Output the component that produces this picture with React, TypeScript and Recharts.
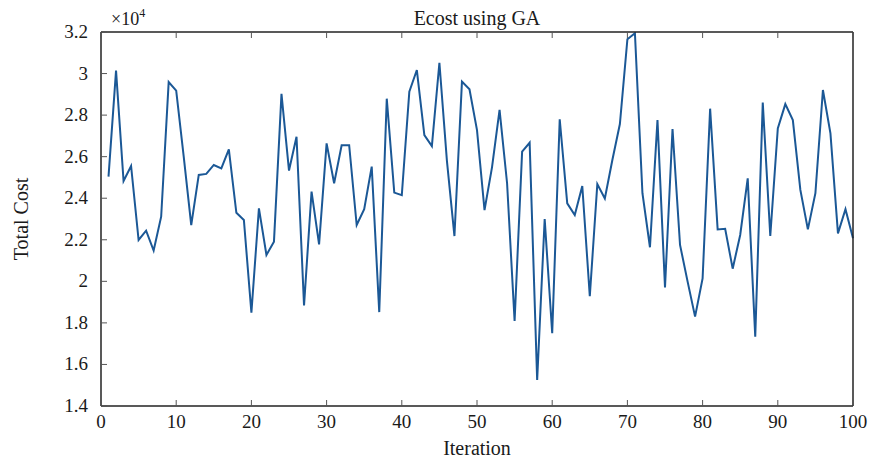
import React from 'react';
import { LineChart, Line, XAxis, YAxis } from 'recharts';

const iterations: number[] = Array.from({ length: 100 }, (_, i) => i + 1);

const totalCost: number[] = [
  2.504, 3.014, 2.483, 2.555, 2.199, 2.244, 2.148, 2.311, 2.959, 2.918,
  2.6, 2.271, 2.512, 2.517, 2.56, 2.544, 2.635, 2.33, 2.295, 1.849,
  2.351, 2.127, 2.191, 2.902, 2.533, 2.696, 1.884, 2.432, 2.178, 2.664,
  2.472, 2.655, 2.655, 2.271, 2.347, 2.552, 1.852, 2.879, 2.427, 2.415,
  2.913, 3.017, 2.704, 2.651, 3.052, 2.58, 2.218, 2.961, 2.924, 2.728,
  2.343, 2.55, 2.825, 2.472, 1.809, 2.624, 2.667, 1.525, 2.3, 1.75,
  2.78, 2.375, 2.319, 2.459, 1.928, 2.468, 2.399, 2.584, 2.757, 3.165,
  3.194, 2.424, 2.164, 2.776, 1.971, 2.733, 2.175, 2.0, 1.83, 2.014,
  2.831, 2.25, 2.253, 2.061, 2.223, 2.496, 1.734, 2.86, 2.218, 2.736,
  2.853, 2.776, 2.44, 2.25, 2.424, 2.921, 2.712, 2.231, 2.347, 2.207,
];

const xTicks: number[] = [0, 10, 20, 30, 40, 50, 60, 70, 80, 90, 100];
const yTicks: number[] = [1.4, 1.6, 1.8, 2, 2.2, 2.4, 2.6, 2.8, 3, 3.2];

const titleText = 'Ecost using GA';
const xLabelText = 'Iteration';
const yLabelText = 'Total Cost';

const data = iterations.map((it, i) => ({ iteration: it, cost: totalCost[i] }));

const FONT = "'Liberation Serif', 'Times New Roman', Times, serif";
const TICK_COLOR = '#555';
const TEXT_COLOR = '#1a1a1a';
const TL = 6;

const fmt = (v: number) => String(Number(v.toFixed(1)));
const textStyle = (size: number): React.CSSProperties => ({ fontFamily: FONT, fontSize: size });

const BottomTick = (props: any) => {
  const { x, y, payload } = props;
  return (
    <g>
      <line x1={x} y1={y} x2={x} y2={y - TL} stroke={TICK_COLOR} strokeWidth={1} />
      <text x={x} y={y + 22} textAnchor="middle" style={textStyle(19)} fill={TEXT_COLOR}>
        {payload.value}
      </text>
    </g>
  );
};

const LeftTick = (props: any) => {
  const { x, y, payload } = props;
  return (
    <g>
      <line x1={x} y1={y} x2={x + TL} y2={y} stroke={TICK_COLOR} strokeWidth={1} />
      <text x={x - 13} y={y + 6} textAnchor="end" style={textStyle(19)} fill={TEXT_COLOR}>
        {fmt(payload.value)}
      </text>
    </g>
  );
};

const TopTick = (props: any) => {
  const { x, y } = props;
  return <line x1={x} y1={y} x2={x} y2={y + TL} stroke={TICK_COLOR} strokeWidth={1} />;
};

const RightTick = (props: any) => {
  const { x, y } = props;
  return <line x1={x} y1={y} x2={x - TL} y2={y} stroke="#aaa" strokeWidth={1} />;
};

const TopLabel = (props: any) => {
  const vb = props.viewBox || {};
  const cx = vb.x + vb.width / 2;
  return (
    <g>
      <text x={cx} y={vb.y + 3} textAnchor="middle" style={textStyle(20)} fill={TEXT_COLOR}>
        {titleText}
      </text>
      <text x={vb.x + 10} y={vb.y + 3} style={textStyle(18)} fill={TEXT_COLOR}>
        ×10
        <tspan dy={-8} style={{ fontSize: 12 }}>4</tspan>
      </text>
    </g>
  );
};

const BottomLabel = (props: any) => {
  const vb = props.viewBox || {};
  return (
    <text x={vb.x + vb.width / 2} y={vb.y + 49} textAnchor="middle" style={textStyle(20)} fill={TEXT_COLOR}>
      {xLabelText}
    </text>
  );
};

const LeftLabel = (props: any) => {
  const vb = props.viewBox || {};
  const lx = vb.x + 7;
  const ly = vb.y + vb.height / 2;
  return (
    <text x={lx} y={ly} textAnchor="middle" style={textStyle(20)} fill={TEXT_COLOR} transform={`rotate(-90, ${lx}, ${ly})`}>
      {yLabelText}
    </text>
  );
};

export default function App() {
  return (
    <div style={{ position: 'absolute', left: 0, top: 0, width: 877, height: 458, background: '#fff', fontFamily: FONT }}>
      <LineChart
        width={877}
        height={458}
        data={data}
        margin={{ top: 22, right: 14, bottom: 22, left: 21 }}
        style={{ fontFamily: FONT }}
      >
        <XAxis
          xAxisId="bottom"
          dataKey="iteration"
          type="number"
          domain={[0, 100]}
          ticks={xTicks}
          orientation="bottom"
          height={30}
          tickSize={0}
          tickMargin={0}
          tickLine={false}
          axisLine={{ stroke: '#222', strokeWidth: 1.5 }}
          tick={<BottomTick />}
          interval={0}
          label={<BottomLabel />}
        />
        <XAxis
          xAxisId="top"
          dataKey="iteration"
          type="number"
          domain={[0, 100]}
          ticks={xTicks}
          orientation="top"
          height={10}
          tickSize={0}
          tickMargin={0}
          tickLine={false}
          axisLine={{ stroke: '#222', strokeWidth: 1.5 }}
          tick={<TopTick />}
          interval={0}
          label={<TopLabel />}
        />
        <YAxis
          yAxisId="left"
          type="number"
          domain={[1.4, 3.2]}
          ticks={yTicks}
          orientation="left"
          width={80}
          tickSize={0}
          tickMargin={0}
          tickLine={false}
          axisLine={{ stroke: '#222', strokeWidth: 1.5 }}
          tick={<LeftTick />}
          interval={0}
          allowDataOverflow
          label={<LeftLabel />}
        />
        <YAxis
          yAxisId="right"
          type="number"
          domain={[1.4, 3.2]}
          ticks={yTicks}
          orientation="right"
          width={10}
          tickSize={0}
          tickMargin={0}
          tickLine={false}
          axisLine={{ stroke: '#222', strokeWidth: 1.5 }}
          tick={<RightTick />}
          interval={0}
        />
        <Line
          xAxisId="bottom"
          yAxisId="left"
          type="linear"
          dataKey="cost"
          stroke="#1b5896"
          strokeWidth={2}
          dot={false}
          isAnimationActive={false}
        />
      </LineChart>
    </div>
  );
}
